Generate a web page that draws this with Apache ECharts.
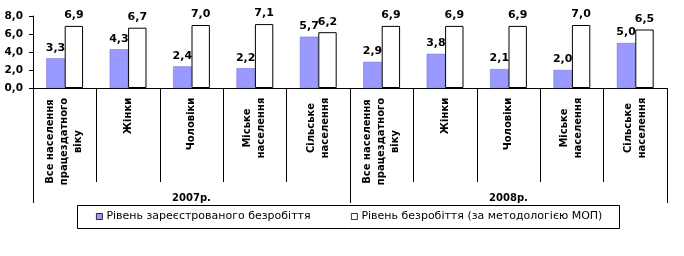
<!DOCTYPE html>
<html>
<head>
<meta charset="utf-8">
<script src="https://cdn.jsdelivr.net/npm/echarts@6/dist/echarts.min.js"></script>
<style>html,body{margin:0;padding:0;background:#fff;}#c{width:684px;height:256px;}</style>
</head>
<body>
<div id="c"></div>
<script>
const categories = [
  'Все населення\nпрацездатного\nвіку', 'Жінки', 'Чоловіки', 'Міське\nнаселення', 'Сільське\nнаселення',
  'Все населення\nпрацездатного\nвіку', 'Жінки', 'Чоловіки', 'Міське\nнаселення', 'Сільське\nнаселення'
];
const years = ['2007р.', '2008р.'];
const registered = [3.3, 4.3, 2.4, 2.2, 5.7, 2.9, 3.8, 2.1, 2.0, 5.0];
const ilo = [6.9, 6.7, 7.0, 7.1, 6.2, 6.9, 6.9, 6.9, 7.0, 6.5];
const seriesNames = ['Рівень зареєстрованого безробіття', 'Рівень безробіття (за методологією МОП)'];
const yTicks = { min: 0, max: 8, interval: 2 };

const FONT = '"DejaVu Sans", Verdana, sans-serif';
const fmt = v => Number(v).toFixed(1).replace('.', ',');

const cv = document.createElement('canvas').getContext('2d');
cv.font = 'bold 10px "DejaVu Sans"';
const rich = {};
categories.forEach((c, i) => {
  const w = Math.max(...c.split('\n').map(l => cv.measureText(l).width));
  rich['l' + i] = { width: Math.ceil(w) + 1, align: 'center', fontSize: 10, fontWeight: 'bold', fontFamily: FONT, lineHeight: 14, color: '#000' };
});

const legendBase = {
  padding: 0, top: 211, icon: 'rect', itemWidth: 6, itemHeight: 6, itemGap: 0,
  itemStyle: { borderColor: '#000', borderWidth: 0.8 },
  textStyle: { fontSize: 11, fontFamily: FONT, color: '#000', padding: [0, 0, 0, -1] }
};

const chart = echarts.init(document.getElementById('c'), null, { renderer: 'canvas' });
chart.setOption({
  animation: false,
  backgroundColor: '#fff',
  grid: { left: 33, right: 17, top: 16, bottom: 168, containLabel: false },
  xAxis: [
    {
      type: 'category', data: categories, position: 'bottom',
      axisLine: { show: true, lineStyle: { color: '#000', width: 1 } },
      axisTick: { show: true, alignWithLabel: false, interval: 0, length: 94, lineStyle: { color: '#000' } },
      axisLabel: {
        interval: 0, rotate: 90, margin: 9,
        formatter: (v, i) => v.split('\n').map(l => '{l' + i + '|' + l + '}').join('\n'),
        rich: rich
      },
      splitLine: { show: false }
    },
    {
      type: 'category', data: years, position: 'bottom', gridIndex: 0,
      axisLine: { show: false },
      axisTick: { show: true, alignWithLabel: false, interval: 0, length: 115, lineStyle: { color: '#000' } },
      axisLabel: { interval: 0, margin: 105, fontSize: 10, fontWeight: 'bold', fontFamily: FONT, color: '#000' },
      splitLine: { show: false }
    }
  ],
  yAxis: {
    type: 'value', min: yTicks.min, max: yTicks.max, interval: yTicks.interval,
    axisLine: { show: true, lineStyle: { color: '#000' } },
    axisTick: { show: true, length: 4, lineStyle: { color: '#000' } },
    axisLabel: { formatter: fmt, fontSize: 10.5, fontWeight: 'bold', fontFamily: FONT, color: '#000', margin: 10 },
    splitLine: { show: false }
  },
  legend: [
    Object.assign({}, legendBase, { data: [seriesNames[0]], left: 96 }),
    Object.assign({}, legendBase, { data: [seriesNames[1]], left: 351 })
  ],
  graphic: [
    { type: 'rect', shape: { x: 77.5, y: 205.5, width: 542, height: 23 }, style: { fill: 'none', stroke: '#000', lineWidth: 1 }, silent: true }
  ],
  series: [
    {
      name: seriesNames[0], type: 'bar', data: registered, xAxisIndex: 0,
      barCategoryGap: '42%', barGap: '0%',
      itemStyle: { color: '#9999FF', borderColor: '#6666CC', borderWidth: 0.5 },
      label: { show: true, position: 'top', distance: 5, formatter: p => fmt(p.value), fontSize: 11, fontWeight: 'bold', fontFamily: FONT, color: '#000' }
    },
    {
      name: seriesNames[1], type: 'bar', data: ilo, xAxisIndex: 0,
      barCategoryGap: '42%', barGap: '0%',
      itemStyle: { color: '#FFFFFF', borderColor: '#000', borderWidth: 1 },
      label: { show: true, position: 'top', distance: 5, formatter: p => fmt(p.value), fontSize: 11, fontWeight: 'bold', fontFamily: FONT, color: '#000' }
    }
  ]
});
</script>
</body>
</html>
